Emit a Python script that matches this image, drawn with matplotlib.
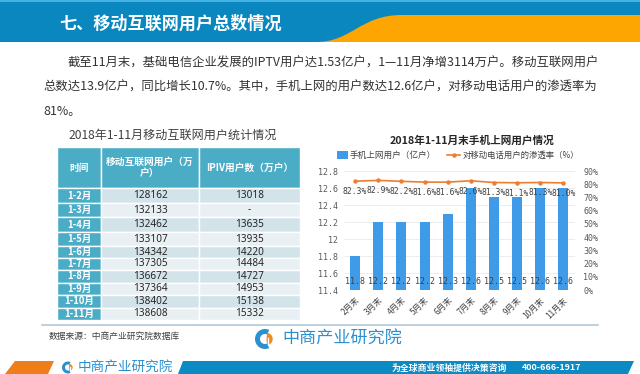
import numpy as np
import matplotlib
matplotlib.use("Agg")
import matplotlib.pyplot as plt
from matplotlib.patches import Rectangle, Polygon, PathPatch, Wedge
from matplotlib.path import Path
from matplotlib.ticker import FuncFormatter

plt.rcParams['font.family'] = ['Noto Sans CJK SC', 'DejaVu Sans']

# ---- data ----
table_months = ['1-2月', '1-3月', '1-4月', '1-5月', '1-6月', '1-7月', '1-8月', '1-9月', '1-10月', '1-11月']
mobile_users = [128162, 132133, 132462, 133107, 134342, 137305, 136672, 137364, 138402, 138608]
iptv_users = [13018, None, 13635, 13935, 14220, 14484, 14727, 14953, 15138, 15332]
table_header = ['时间', '移动互联网用户（万\n户）', 'IPIV用户数（万户）']

chart_months = ['2月末', '3月末', '4月末', '5月末', '6月末', '7月末', '8月末', '9月末', '10月末', '11月末']
phone_users = [11.8, 12.2, 12.2, 12.2, 12.3, 12.6, 12.5, 12.5, 12.6, 12.6]
penetration = [82.3, 82.9, 82.2, 81.6, 81.6, 82.6, 81.3, 81.1, 81.3, 81.0]

para_lines = [
    '截至11月末，基础电信企业发展的IPTV用户达1.53亿户，1—11月净增3114万户。移动互联网用户',
    '总数达13.9亿户，同比增长10.7%。其中，手机上网的用户数达12.6亿户，对移动电话用户的渗透率为',
    '81%。',
]

BLUE = '#0b87bf'
ORANGE = '#fda602'
TEAL = '#4bacc6'
LOGO_BLUE = '#2a90cf'

W, H = 640, 374
fig = plt.figure(figsize=(6.4, 3.74), dpi=100)
bg = fig.add_axes([0, 0, 1, 1])
bg.set_xlim(0, W)
bg.set_ylim(H, 0)
bg.set_axis_off()

# header band
bg.add_patch(Rectangle((0, 0), W, 42, color=BLUE, lw=0))
bg.add_patch(Rectangle((0, 0), W, 2, color='#45b2e6', lw=0))
verts = [(316, 42), (352, 42), (360, 15), (402, 15), (W, 15), (W, 42), (316, 42)]
codes = [Path.MOVETO, Path.CURVE4, Path.CURVE4, Path.CURVE4, Path.LINETO, Path.LINETO, Path.CLOSEPOLY]
bg.add_patch(PathPatch(Path(verts, codes), facecolor=ORANGE, edgecolor='none'))
bg.text(59, 24, '七、移动互联网用户总数情况', color='white', fontsize=12.3,
        fontweight='bold', va='center', ha='left')

# paragraph
para_x = [68, 43, 43]
para_y = [63, 87, 111]
for x, y, s in zip(para_x, para_y, para_lines):
    bg.text(x, y, s, fontsize=8.9, color='#333333', va='center', ha='left')

# table
bg.text(68, 135, '2018年1-11月移动互联网用户统计情况', fontsize=8.7, color='#404040',
        va='center', ha='left')
col_edges = [57, 101, 199, 300]
row_edges = [188, 203, 217, 232, 246, 258, 270, 282.5, 295, 307.5, 320]
head_top = 147
for c in range(3):
    x0, x1 = col_edges[c], col_edges[c + 1]
    bg.add_patch(Rectangle((x0, head_top), x1 - x0, row_edges[0] - head_top,
                           facecolor=TEAL, edgecolor='white', lw=1))
    bg.text((x0 + x1) / 2, (head_top + row_edges[0]) / 2, table_header[c], color='white',
            fontsize=7, fontweight='bold', ha='center', va='center', linespacing=1.1)
for r in range(len(table_months)):
    y0, y1 = row_edges[r], row_edges[r + 1]
    fill = '#d3e3ea' if r % 2 == 0 else '#e9f0f4'
    cells = [table_months[r], str(mobile_users[r]),
             '-' if iptv_users[r] is None else str(iptv_users[r])]
    for c in range(3):
        x0, x1 = col_edges[c], col_edges[c + 1]
        bg.add_patch(Rectangle((x0, y0), x1 - x0, y1 - y0,
                               facecolor=TEAL if c == 0 else fill, edgecolor='white', lw=1))
        if c == 0:
            bg.text((x0 + x1) / 2, (y0 + y1) / 2, cells[c], color='white', fontsize=6.8,
                    fontweight='bold', ha='center', va='center')
        else:
            bg.text((x0 + x1) / 2, (y0 + y1) / 2, cells[c], color='#262626', fontsize=7.2,
                    ha='center', va='center', family=['Noto Sans', 'DejaVu Sans'])

# separator + footer
bg.plot([42, 598], [325, 325], color='#b4c8d8', lw=1.2)
bg.text(49, 336, '数据来源：中商产业研究院数据库', fontsize=6.3, color='#404040', va='center')


def logo_icon(cx, cy, r):
    bg.add_patch(Wedge((cx, cy), r, 65, 295, width=r * 0.5, color=LOGO_BLUE, lw=0))
    bg.add_patch(Wedge((cx + r * 0.15, cy), r * 0.62, -85, 85, color='#f08a1c', lw=0))
    bg.plot([cx + r * 0.3, cx + r * 0.3], [cy - r * 0.1, cy + r * 0.45], color='white', lw=1)


logo_icon(265, 339, 10)
bg.text(282, 339, '中商产业研究院', fontsize=12.3, color=LOGO_BLUE, va='center', ha='left')

# bottom bar
bg.add_patch(Polygon([(15, 361), (54, 361), (48, H), (5, H)], color='#ef7d1a', lw=0))
bg.add_patch(Polygon([(183, 361), (634, 361), (628, H), (178, H)], color='#0b8ac4', lw=0))
logo_icon(68, 367.5, 6)
bg.text(78, 367.5, '中商产业研究院', fontsize=9.8, color=LOGO_BLUE, va='center', ha='left')
bg.text(392, 368, '为全球商业领袖提供决策咨询', fontsize=6.4, color='white',
        fontweight='bold', va='center', ha='left')
bg.text(522, 368, '400-666-1917', fontsize=6.4, color='white', fontweight='bold',
        va='center', ha='left')

# ---- chart ----
bg.text(472, 140, '2018年1-11月末手机上网用户情况', fontsize=7.7, fontweight='bold',
        color='#262626', ha='center', va='center')
ax_l, ax_r, ax_t, ax_b = 343.5, 575, 171, 290
ax = fig.add_axes([ax_l / W, (H - ax_b) / H, (ax_r - ax_l) / W, (ax_b - ax_t) / H])
x = np.arange(len(chart_months))
bars = ax.bar(x, phone_users, width=0.43, color='#3f9ae8', zorder=2)
ax.set_ylim(11.4, 12.8)
ax.set_xlim(-0.5, len(x) - 0.5)
ax.set_yticks(np.arange(11.4, 12.81, 0.2))
ax.yaxis.set_major_formatter(FuncFormatter(lambda v, p: f'{v:g}' if abs(v - 12) > 1e-6 else '12'))
ax.set_xticks(x)
ax.set_xticklabels(chart_months, rotation=45, ha='right', rotation_mode='anchor')
ax.tick_params(axis='x', length=0, labelsize=6, colors='#404040', pad=4)
ax.tick_params(axis='y', length=0, labelsize=6, colors='#595959', pad=4)
for lab in ax.get_yticklabels():
    lab.set_family(['DejaVu Sans Mono'])
ax.grid(axis='y', color='#e6e6e6', lw=0.5, zorder=0)
for s in ax.spines.values():
    s.set_visible(False)
for xi, v in zip(x, phone_users):
    ax.annotate(f'{v:g}', (xi, 11.4), xytext=(0, 6), textcoords='offset points',
                ha='center', va='center', fontsize=6, color='#404040',
                family=['DejaVu Sans Mono'], zorder=4)

ax2 = ax.twinx()
ax2.plot(x, penetration, color='#ed7d31', lw=1.2, marker='o', markersize=2.2, zorder=3)
ax2.set_ylim(0, 90)
ax2.set_yticks(np.arange(0, 91, 10))
ax2.yaxis.set_major_formatter(FuncFormatter(lambda v, p: f'{v:.0f}%'))
ax2.tick_params(axis='y', length=0, labelsize=6, colors='#595959', pad=6)
for lab in ax2.get_yticklabels():
    lab.set_family(['DejaVu Sans Mono'])
for s in ax2.spines.values():
    s.set_visible(False)
for xi, v in zip(x, penetration):
    ax2.annotate(f'{v:.1f}%', (xi, v), xytext=(0, -7.5), textcoords='offset points',
                 ha='center', va='center', fontsize=5.8, color='#404040',
                 family=['DejaVu Sans Mono'])

# legend
bg.add_patch(Rectangle((337, 151), 11, 8, color='#3f9ae8', lw=0))
bg.text(350, 155, '手机上网用户（亿户）', fontsize=6.2, color='#404040', va='center')
bg.plot([447, 460], [155, 155], color='#ed7d31', lw=1.2)
bg.plot([453.5], [155], 'o', color='#ed7d31', markersize=2.2)
bg.text(463, 155, '对移动电话用户的渗透率（%）', fontsize=6, color='#404040', va='center')

fig.savefig('out.png', dpi=100)
